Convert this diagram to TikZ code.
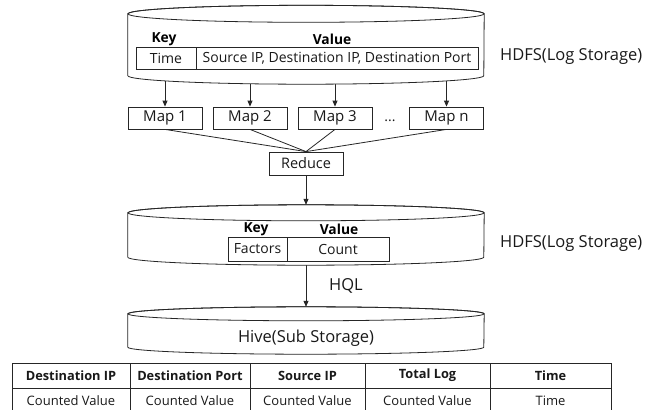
\documentclass[tikz,border=0pt]{standalone}
\usepackage{fontspec}
\setmainfont{Open Sans}
\usetikzlibrary{arrows.meta,calc}
\pgfdeclarelayer{bg}
\pgfsetlayers{bg,main}

\tikzset{
  ink/.style={draw=black!85, line width=0.8pt},
  txt/.style={font=\fontsize{14}{16}\selectfont, text=black!90},
  cell/.style={ink, txt, inner sep=0pt, minimum height=22pt},
  mapbox/.style={cell, minimum width=74pt, font=\fontsize{15}{17}\selectfont},
  hdr/.style={font=\bfseries\fontsize{13.8}{15}\selectfont, inner sep=0pt},
  lbl/.style={font=\fontsize{16.5}{18}\selectfont, inner sep=0pt, text=black!90},
  tcell/.style={ink, inner sep=0pt, minimum height=25pt, font=\fontsize{13}{15}\selectfont, text=black!90},
  thead/.style={tcell, font=\bfseries\fontsize{12.8}{15}\selectfont},
  store/.style={inner sep=0pt, minimum width=356pt},
  flow/.style={ink, -{Triangle[length=6pt,width=5pt]}},
}

% storage drum around a named node: #1 node, #2 half height of the end ellipses
\newcommand\drumshape[2]{%
  \draw[ink, fill=white]
    ([yshift=-#2]#1.north west) -- ([yshift=#2]#1.south west)
    arc[start angle=180, end angle=360, x radius=178pt, y radius=#2]
    -- ([yshift=-#2]#1.north east)
    arc[start angle=0, end angle=180, x radius=178pt, y radius=#2] -- cycle;
  \draw[ink] ([yshift=-#2]#1.north) ellipse[x radius=178pt, y radius=#2];
}

\begin{document}
\begin{tikzpicture}[x=1pt, y=-1pt]
\useasboundingbox (0,0) rectangle (657,410);

% storage bodies
\node[store, minimum height=78.5pt] (hdfsA) at (306,44.75) {};
\node[store, minimum height=60pt]   (hdfsB) at (306,235) {};
\node[store, minimum height=47pt]   (hive)  at (306,330.5) {};

% map and reduce stage
\node[mapbox] (m1) at (165,118) {Map 1};
\node[mapbox] (m2) at (250,118) {Map 2};
\node[mapbox] (m3) at (335,118) {Map 3};
\node[txt, inner sep=0pt] (dots) at (390,121) {...};
\node[mapbox] (mn) at (446.5,118) {Map n};
\node[cell, minimum width=74pt, minimum height=23pt, font=\fontsize{14.5}{16}\selectfont] (red) at (306,163.5) {Reduce};

% connectors (kept beneath the drums)
\begin{pgfonlayer}{bg}
  \foreach \m in {m1,m2,m3,mn}
    \draw[flow] (\m.north |- hdfsA.center) -- (\m.north);
\end{pgfonlayer}
\foreach \m in {m1,m2,m3,mn}
  \draw[ink] (\m.south) -- (red.north);
\draw[flow] (red.south) -- (hdfsB.north);
\draw[flow] (hdfsB.south) -- (hive.north);
\node[lbl] (hql) at (346,286) {HQL};

% drums
\drumshape{hdfsA}{8.5pt}
\drumshape{hdfsB}{8pt}
\drumshape{hive}{7pt}

% log records
\node[hdr] (kA) at (164,39) {Key};
\node[hdr] (vA) at (332,39) {Value};
\node[cell, minimum width=60pt]  (timeA) at (166,58) {Time};
\node[cell, minimum width=282pt] (valA)  at (337,58) {Source IP, Destination IP, Destination Port};

% counted records
\node[hdr] (kB) at (256,229) {Key};
\node[hdr] (vB) at (339,229) {Value};
\node[cell, minimum width=59pt, minimum height=24pt]  (fac) at (257.5,249) {Factors};
\node[cell, minimum width=102pt, minimum height=24pt] (cnt) at (338,249) {Count};

\node[lbl] (hivelbl) at (306,338) {Hive(Sub Storage)};

% side labels
\node[lbl, anchor=west] (labA) at (500,57) {HDFS(Log Storage)};
\node[lbl, anchor=west] (labB) at (500,244) {HDFS(Log Storage)};

% result table
\node[thead, minimum width=118pt] (h1) at (71,375.5)    {Destination IP};
\node[thead, minimum width=120pt] (h2) at (190,375.5)   {Destination Port};
\node[thead, minimum width=115pt] (h3) at (307.5,375.5) {Source IP};
\node[thead, minimum width=125pt] (h4) at (427.5,375.5) {Total Log};
\node[thead, minimum width=121pt] (h5) at (550.5,375.5) {Time};
\node[tcell, minimum width=118pt] (r1) at (71,400.5)    {Counted Value};
\node[tcell, minimum width=120pt] (r2) at (190,400.5)   {Counted Value};
\node[tcell, minimum width=115pt] (r3) at (307.5,400.5) {Counted Value};
\node[tcell, minimum width=125pt] (r4) at (427.5,400.5) {Counted Value};
\node[tcell, minimum width=121pt] (r5) at (550.5,400.5) {Time};
\end{tikzpicture}
\end{document}
